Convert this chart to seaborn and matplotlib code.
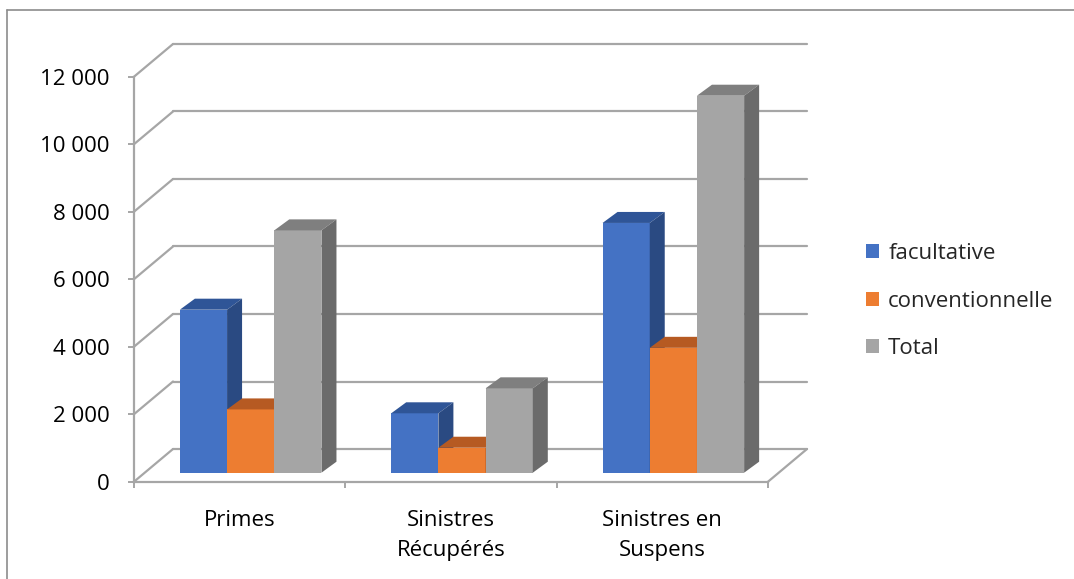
import matplotlib
matplotlib.use("Agg")
import matplotlib.pyplot as plt
from matplotlib.patches import Patch, Polygon
from matplotlib.lines import Line2D
import pandas as pd
import seaborn as sns

# data
categories = ["Primes", "Sinistres\nRécupérés", "Sinistres en\nSuspens"]
series = ["facultative", "conventionnelle", "Total"]
facultative = [4830, 1760, 7400]
conventionnelle = [1875, 740, 3700]
total = [7180, 2500, 11170]
y_ticks = [0, 2000, 4000, 6000, 8000, 10000, 12000]

front_colors = ["#4472C4", "#ED7D31", "#A5A5A5"]
top_colors = ["#2F5597", "#B65A22", "#7F7F7F"]
side_colors = ["#2A4A82", "#A9521F", "#6B6B6B"]
grid_color = "#A6A6A6"

df = pd.DataFrame({
    "categorie": categories * 3,
    "serie": [s for s in series for _ in categories],
    "valeur": facultative + conventionnelle + total,
})

sns.set_theme(style="white")
plt.rcParams["font.family"] = ["Open Sans", "DejaVu Sans"]

W, H = 1074, 579
fig = plt.figure(figsize=(W / 100, H / 100), dpi=100)
ax = fig.add_axes([134 / W, (H - 481.7) / H, 634 / W, 405 / H])
ax.set_xlim(-0.5, 2.5)
ax.set_ylim(0, 12000)

# pixel -> data unit helpers for the oblique 3D look
ux = 3 / 634
uy = 12000 / 405
back_dx, back_dy = 39 * ux, 32.7 * uy      # back wall offset
bar_dx, bar_dy = 11 * ux, 9 * uy           # plane of bar front faces
deep_dx, deep_dy = 15 * ux, 11 * uy        # bar depth

sns.barplot(data=df, x="categorie", y="valeur", hue="serie",
            hue_order=series, palette=front_colors, width=0.67,
            legend=False, ax=ax, saturation=1)

# back wall gridlines + left wall diagonals
for v in y_ticks:
    ax.plot([-0.5 + back_dx, 2.5 + back_dx], [v + back_dy, v + back_dy],
            color=grid_color, lw=1.6, clip_on=False, zorder=1)
    ax.plot([-0.5, -0.5 + back_dx], [v, v + back_dy],
            color=grid_color, lw=1.6, clip_on=False, zorder=1)
# floor right edge
ax.plot([2.5, 2.5 + back_dx], [0, back_dy], color=grid_color, lw=1.6,
        clip_on=False, zorder=1)

# extrude the seaborn bars
bars = sorted(ax.patches, key=lambda p: p.get_x())
color_of = {}
for i, s in enumerate(series):
    color_of[matplotlib.colors.to_hex(front_colors[i])] = i
for k, p in enumerate(bars):
    ci = color_of[matplotlib.colors.to_hex(p.get_facecolor())]
    h = p.get_height()
    x0 = p.get_x() + bar_dx
    x1 = x0 + p.get_width()
    b = bar_dy
    t = b + h
    p.set_x(x0)
    p.set_y(b)
    p.set_linewidth(0)
    z = 3 + k * 0.01
    p.set_zorder(z)
    p.set_clip_on(False)
    top = Polygon([(x0, t), (x1, t), (x1 + deep_dx, t + deep_dy), (x0 + deep_dx, t + deep_dy)],
                  closed=True, facecolor=top_colors[ci], lw=0, zorder=z, clip_on=False)
    side = Polygon([(x1, b), (x1 + deep_dx, b + deep_dy), (x1 + deep_dx, t + deep_dy), (x1, t)],
                   closed=True, facecolor=side_colors[ci], lw=0, zorder=z, clip_on=False)
    ax.add_patch(top)
    ax.add_patch(side)

# front axes
for sp in ["top", "right"]:
    ax.spines[sp].set_visible(False)
for sp in ["left", "bottom"]:
    ax.spines[sp].set_color(grid_color)
    ax.spines[sp].set_linewidth(1.6)
    ax.spines[sp].set_zorder(2)

ax.set_yticks(y_ticks)
ax.set_yticklabels([f"{v:,}".replace(",", " ") for v in y_ticks])
ax.set_xticks([0, 1, 2])
ax.set_xticklabels(categories)
ax.set_xticks([-0.5, 0.5, 1.5, 2.5], minor=True)
ax.tick_params(axis="y", left=True, length=4.5, width=1.4, color=grid_color,
               labelsize=16, pad=13, labelcolor="black")
ax.tick_params(axis="x", which="major", bottom=True, length=0, labelsize=16,
               pad=20.5, labelcolor="black")
ax.tick_params(axis="x", which="minor", bottom=True, length=4.5, width=1.4,
               color=grid_color)
for lab in ax.get_xticklabels():
    lab.set_linespacing(1.55)
ax.set_xlabel("")
ax.set_ylabel("")
ax.patch.set_alpha(0)

handles = [Patch(facecolor=c, edgecolor="none") for c in front_colors]
fig.legend(handles, series, loc="center left", bbox_to_anchor=(866 / W, (H - 301) / H),
           frameon=False, fontsize=16, handlelength=0.6, handleheight=0.6,
           handletextpad=0.4, labelspacing=1.2, borderpad=0, borderaxespad=0)

# chart border
fig.add_artist(Line2D([7 / W, 7 / W], [0, 1 - 10 / H], transform=fig.transFigure,
                      color="#8C8C8C", lw=1.2))
fig.add_artist(Line2D([7 / W, 1], [1 - 10 / H, 1 - 10 / H], transform=fig.transFigure,
                      color="#8C8C8C", lw=1.2))

fig.savefig("out.png", dpi=100)
